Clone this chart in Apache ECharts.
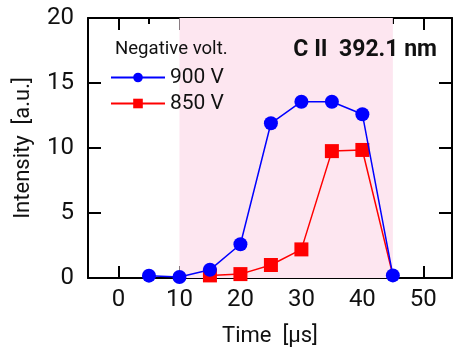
<!DOCTYPE html>
<html><head><meta charset="utf-8">
<script src="https://cdn.jsdelivr.net/npm/echarts@6/dist/echarts.min.js"></script>
<style>html,body{margin:0;padding:0;background:#fff}#c{width:453px;height:352px}</style>
</head><body><div id="c"></div>
<script>
const times900 = [5, 10, 15, 20, 25, 30, 35, 40, 45];
const vals900 = [0.18, 0.08, 0.63, 2.6, 11.9, 13.56, 13.56, 12.6, 0.2];
const times850 = [15, 20, 25, 30, 35, 40, 45];
const vals850 = [0.2, 0.3, 1.0, 2.2, 9.76, 9.85, 0.2];
const xMajor = [0, 10, 20, 30, 40, 50];
const xMinor = [5, 15, 25, 35, 45];
const band = [10, 45];
const seriesNames = ['900 V', '850 V'];
const legendTitle = 'Negative volt.';
const lineTitle = 'C II  392.1 nm';
const xName = 'Time  [µs]';
const yName = 'Intensity  [a.u.]';

const FONT = 'Roboto';
const chart = echarts.init(document.getElementById('c'), null, {renderer: 'canvas'});
const pair = (xs, ys) => xs.map((x, i) => [x, ys[i]]);
const xRange = {min: -5, max: 54.7};
function xAx(pos, ticks, len, showLine, labels) {
  return Object.assign({
    type: 'value', position: pos, gridIndex: 0,
    axisLine: {show: showLine, onZero: false, lineStyle: {color: '#000', width: 2}},
    axisTick: {show: true, inside: true, length: len, customValues: ticks, lineStyle: {color: '#000', width: 2}},
    axisLabel: labels ? {show: true, customValues: ticks, fontFamily: FONT, fontSize: 24, color: '#111', margin: 10} : {show: false},
    splitLine: {show: false}
  }, xRange);
}
const xAxes = [
  Object.assign(xAx('bottom', xMajor, 12, true, true), {
    name: xName, nameLocation: 'middle', nameGap: 47,
    nameTextStyle: {fontFamily: FONT, fontSize: 22, color: '#111'}
  }),
  xAx('bottom', xMinor, 6, false, false),
  xAx('top', xMajor, 12, true, false),
  xAx('top', xMinor, 6, false, false)
];
xAxes[1].offset = 0; xAxes[3].offset = 0;

// the last 850 V point sits under the 900 V marker; its own marker is not drawn
const red = pair(times850, vals850).map((v, i, a) => i === a.length - 1 ? {value: v, symbol: 'none'} : v);

chart.setOption({
  animation: false,
  grid: {left: 88, right: 1, top: 18, bottom: 72, containLabel: false},
  title: [
    {text: lineTitle, right: 16, top: 39, padding: 0,
     textStyle: {fontFamily: FONT, fontSize: 23, fontWeight: 'bold', color: '#111'}},
    {text: legendTitle, left: 115, top: 40, padding: 0,
     textStyle: {fontFamily: FONT, fontSize: 18.6, fontWeight: 'normal', color: '#111'}}
  ],
  legend: {
    data: seriesNames, orient: 'vertical', left: 110, top: 67, padding: 0,
    itemWidth: 54, itemHeight: 12, itemGap: 5,
    textStyle: {fontFamily: FONT, fontSize: 21, color: '#111', lineHeight: 21}
  },
  xAxis: xAxes,
  yAxis: [
    {type: 'value', position: 'left', min: 0, max: 20, interval: 5,
     name: yName, nameLocation: 'middle', nameGap: 54,
     nameTextStyle: {fontFamily: FONT, fontSize: 22, color: '#111'},
     axisLine: {show: true, onZero: false, lineStyle: {color: '#000', width: 2}},
     axisTick: {inside: true, length: 13, lineStyle: {color: '#000', width: 2}},
     axisLabel: {fontFamily: FONT, fontSize: 24, color: '#111', margin: 14},
     splitLine: {show: false}},
    {type: 'value', position: 'right', min: 0, max: 20, interval: 5,
     axisLine: {show: true, onZero: false, lineStyle: {color: '#000', width: 2}},
     axisTick: {inside: true, length: 13, lineStyle: {color: '#000', width: 2}},
     axisLabel: {show: false}, splitLine: {show: false}}
  ],
  series: [
    {type: 'line', name: 'band', data: [], xAxisIndex: 0, yAxisIndex: 0, silent: true,
     markArea: {silent: true, itemStyle: {color: '#fde6f0'}, data: [[{xAxis: band[0]}, {xAxis: band[1]}]]}},
    {type: 'line', name: seriesNames[1], data: red, xAxisIndex: 0, yAxisIndex: 0,
     symbol: 'rect', symbolSize: 14, color: '#ff0000',
     lineStyle: {color: '#ff0000', width: 1.5}, itemStyle: {color: '#ff0000'}, z: 3},
    {type: 'line', name: seriesNames[0], data: pair(times900, vals900), xAxisIndex: 0, yAxisIndex: 0,
     symbol: 'circle', symbolSize: 14, color: '#0000ff',
     lineStyle: {color: '#0000ff', width: 1.5}, itemStyle: {color: '#0000ff'}, z: 4}
  ]
});
</script></body></html>
